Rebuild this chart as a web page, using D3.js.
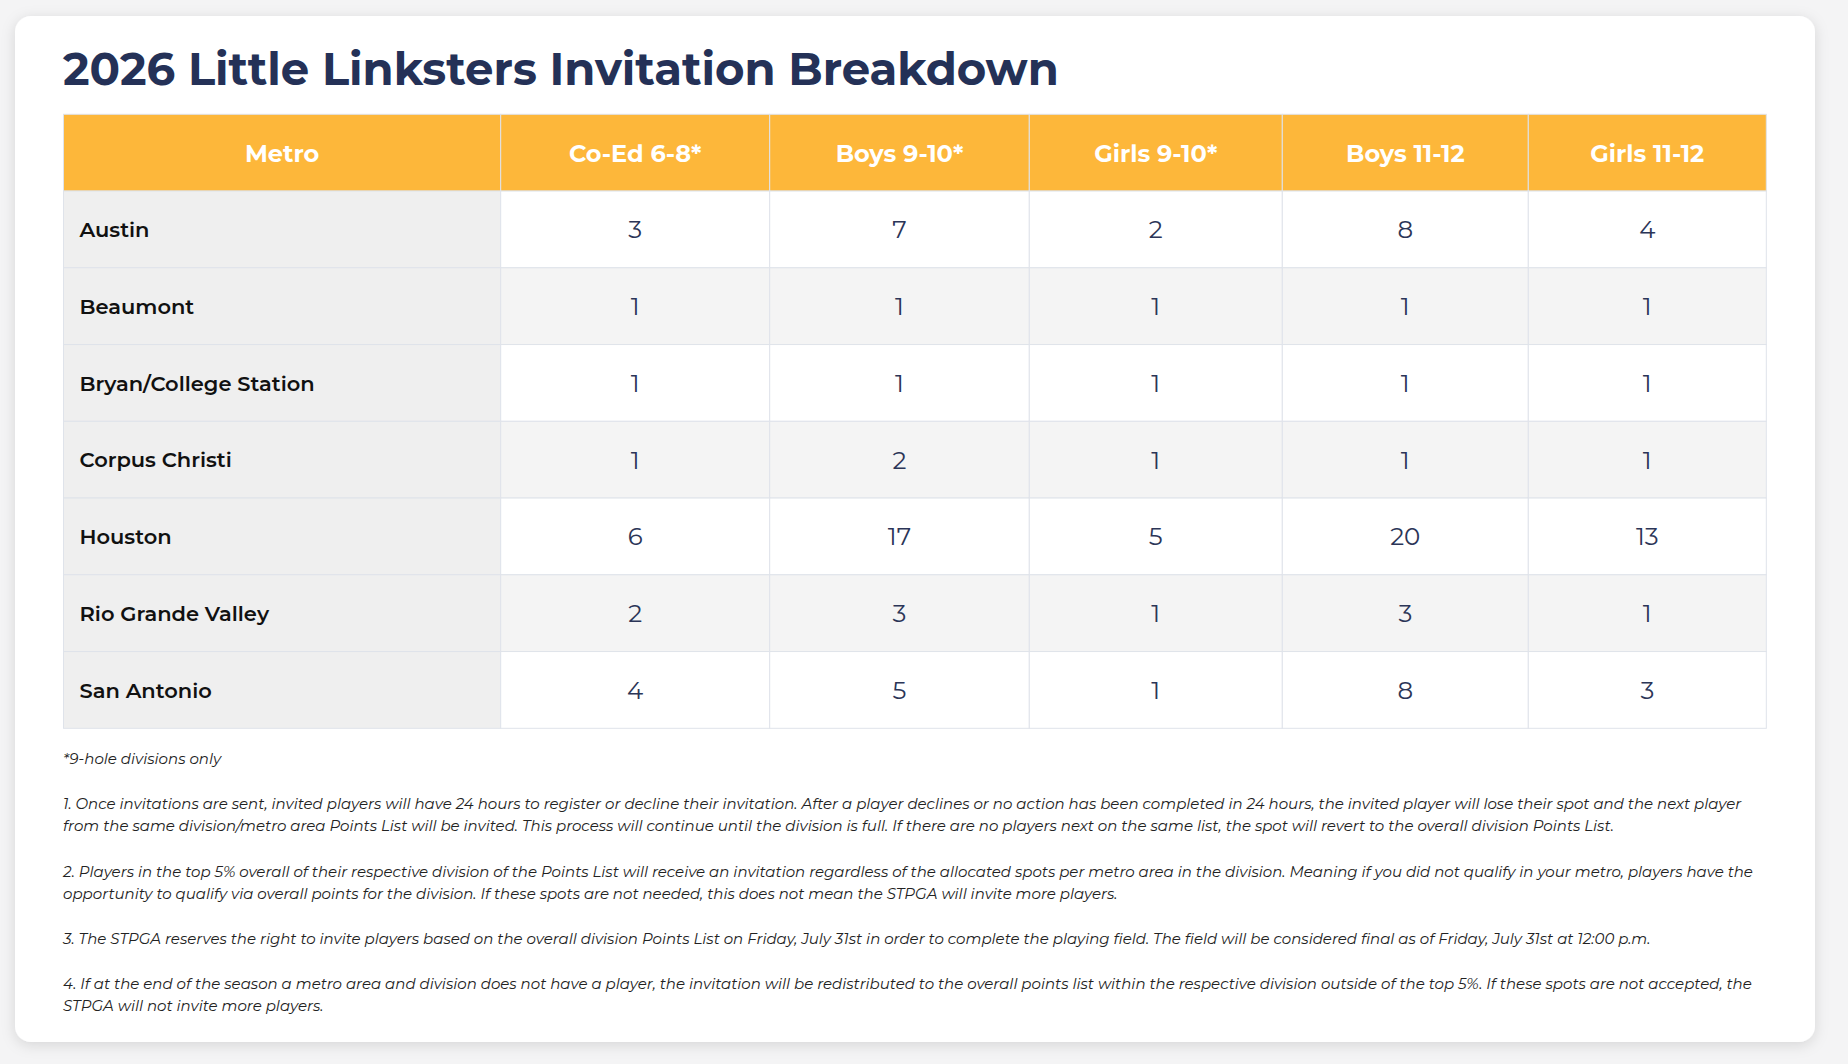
<!DOCTYPE html>
<html>
<head>
<meta charset="utf-8">
<script src="https://cdn.jsdelivr.net/npm/d3@7/dist/d3.min.js"></script>
<style>
  html, body { margin: 0; padding: 0; background: #f4f4f5; }
  svg { display: block; }
</style>
</head>
<body>
<div id="chart"></div>
<script>
// ---------------- DATA ----------------
const title = "2026 Little Linksters Invitation Breakdown";
const metroHeader = "Metro";
const metros = ["Austin", "Beaumont", "Bryan/College Station", "Corpus Christi", "Houston", "Rio Grande Valley", "San Antonio"];
const divisions = ["Co-Ed 6-8*", "Boys 9-10*", "Girls 9-10*", "Boys 11-12", "Girls 11-12"];
const coEd68   = [3, 1, 1, 1, 6, 2, 4];
const boys910  = [7, 1, 1, 2, 17, 3, 5];
const girls910 = [2, 1, 1, 1, 5, 1, 1];
const boys1112 = [8, 1, 1, 1, 20, 3, 8];
const girls1112 = [4, 1, 1, 1, 13, 1, 3];
const seriesValues = [coEd68, boys910, girls910, boys1112, girls1112];
const footnote = "*9-hole divisions only";
const notes = [
  ["1. Once invitations are sent, invited players will have 24 hours to register or decline their invitation. After a player declines or no action has been completed in 24 hours, the invited player will lose their spot and the next player",
   "from the same division/metro area Points List will be invited. This process will continue until the division is full. If there are no players next on the same list, the spot will revert to the overall division Points List."],
  ["2. Players in the top 5% overall of their respective division of the Points List will receive an invitation regardless of the allocated spots per metro area in the division. Meaning if you did not qualify in your metro, players have the",
   "opportunity to qualify via overall points for the division. If these spots are not needed, this does not mean the STPGA will invite more players."],
  ["3. The STPGA reserves the right to invite players based on the overall division Points List on Friday, July 31st in order to complete the playing field. The field will be considered final as of Friday, July 31st at 12:00 p.m."],
  ["4. If at the end of the season a metro area and division does not have a player, the invitation will be redistributed to the overall points list within the respective division outside of the top 5%. If these spots are not accepted, the",
   "STPGA will not invite more players."]
];

// ---------------- LAYOUT ----------------
const W = 1848, H = 1064;
const colUnits = [437.2, 269, 259.6, 253, 246, 238];   // relative column widths
const FONT = "Montserrat, Inter, 'Open Sans', sans-serif";

const svg = d3.select("#chart").append("svg").attr("width", W).attr("height", H);
const defs = svg.append("defs");
const f = defs.append("filter").attr("id", "shadow").attr("x", "-5%").attr("y", "-5%").attr("width", "110%").attr("height", "110%");
f.append("feDropShadow").attr("dx", 0).attr("dy", 3).attr("stdDeviation", 7).attr("flood-color", "#000").attr("flood-opacity", 0.13);

svg.append("rect").attr("width", W).attr("height", H).attr("fill", "#f4f4f5");
svg.append("rect").attr("x", 15).attr("y", 16).attr("width", 1800).attr("height", 1026)
  .attr("rx", 16).attr("fill", "#ffffff").attr("filter", "url(#shadow)");

// Title
svg.append("text").attr("x", 63).attr("y", 85)
  .attr("font-family", FONT).attr("font-weight", 700).attr("font-size", 45)
  .attr("fill", "#243157").text(title);

// Scales
const cum = [0, ...d3.cumsum(colUnits)];
const xScale = d3.scaleLinear().domain([0, cum[cum.length - 1]]).range([63.5, 1766.3]);
const colKeys = ["metro", ...divisions];
const colLeft = k => xScale(cum[colKeys.indexOf(k)]);
const colRight = k => xScale(cum[colKeys.indexOf(k) + 1]);
const yScale = d3.scaleBand().domain(["__header", ...metros]).range([114.3, 728.3]).padding(0);

const borderColor = "#dfe3ea";
const table = svg.append("g");

// Header cells
table.selectAll("rect.hdr").data(colKeys).join("rect")
  .attr("class", "hdr")
  .attr("x", d => colLeft(d)).attr("y", yScale("__header"))
  .attr("width", d => colRight(d) - colLeft(d)).attr("height", yScale.bandwidth())
  .attr("fill", "#fdb73a").attr("stroke", borderColor).attr("stroke-width", 1);

table.selectAll("text.hdr").data(colKeys).join("text")
  .attr("class", "hdr")
  .attr("x", d => (colLeft(d) + colRight(d)) / 2)
  .attr("y", yScale("__header") + yScale.bandwidth() / 2 + 9)
  .attr("text-anchor", "middle")
  .attr("font-family", FONT).attr("font-weight", 700).attr("font-size", 24)
  .attr("fill", "#ffffff")
  .text(d => d === "metro" ? metroHeader : d);

// Body rows
const rows = table.selectAll("g.row").data(metros).join("g").attr("class", "row");
rows.each(function (m, i) {
  const g = d3.select(this);
  const y0 = yScale(m), bh = yScale.bandwidth();
  const cells = colKeys.map((k, j) => ({ key: k, value: j === 0 ? m : seriesValues[j - 1][i] }));
  g.selectAll("rect").data(cells).join("rect")
    .attr("x", d => colLeft(d.key)).attr("y", y0)
    .attr("width", d => colRight(d.key) - colLeft(d.key)).attr("height", bh)
    .attr("fill", d => d.key === "metro" ? "#efefef" : (i % 2 === 1 ? "#f4f4f4" : "#ffffff"))
    .attr("stroke", borderColor).attr("stroke-width", 1);
  g.selectAll("text").data(cells).join("text")
    .attr("x", d => d.key === "metro" ? colLeft(d.key) + 16 : (colLeft(d.key) + colRight(d.key)) / 2)
    .attr("y", d => y0 + bh / 2 + (d.key === "metro" ? 7.6 : 9))
    .attr("text-anchor", d => d.key === "metro" ? "start" : "middle")
    .attr("font-family", FONT)
    .attr("font-weight", d => d.key === "metro" ? 600 : 400)
    .attr("font-size", d => d.key === "metro" ? 21 : 24.5)
    .attr("fill", d => d.key === "metro" ? "#111111" : "#2b3557")
    .text(d => d.value);
});

// Footnotes
const notesG = svg.append("g").attr("font-family", FONT).attr("font-style", "italic")
  .attr("font-size", 15).attr("fill", "#222222");
const lines = [{ t: footnote, y: 758 }];
const paraStarts = [803, 871, 938, 983];
notes.forEach((p, pi) => p.forEach((l, li) => lines.push({ t: l, y: paraStarts[pi] + li * 22.8 })));
notesG.selectAll("text").data(lines).join("text")
  .attr("x", 63).attr("y", d => d.y).attr("dominant-baseline", "central").text(d => d.t);
</script>
</body>
</html>
